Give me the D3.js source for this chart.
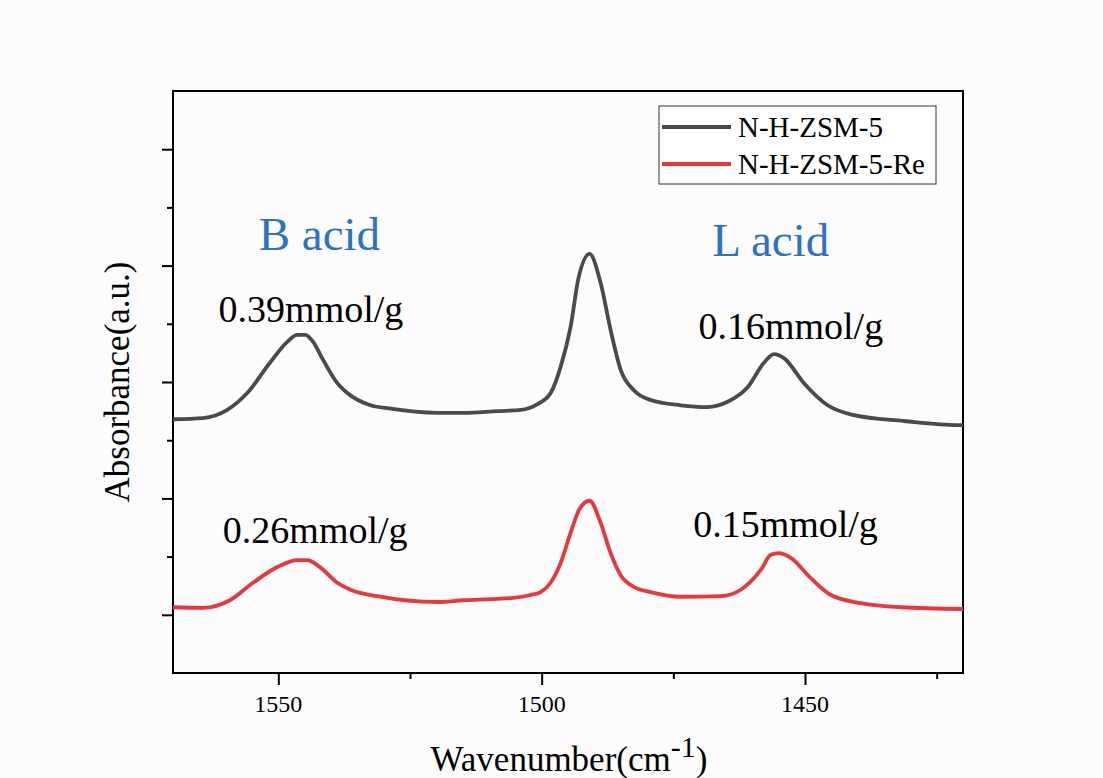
<!DOCTYPE html>
<html><head><meta charset="utf-8">
<script src="https://cdn.jsdelivr.net/npm/d3@7"></script>
<style>html,body{margin:0;padding:0;background:#fcfcfc;}svg{display:block;}</style>
</head><body>
<svg id="c" width="1103" height="778"></svg>
<script>
const wavenumbers1 = [1570.0,1564.3,1559.7,1555.9,1551.6,1548.3,1546.4,1544.9,1543.4,1541.5,1538.8,1536.9,1532.5,1529.3,1519.8,1514.9,1508.4,1504.0,1500.8,1498.3,1496.4,1494.5,1493.0,1490.9,1488.8,1486.9,1485.0,1482.5,1479.3,1473.6,1468.5,1464.7,1460.9,1457.8,1455.9,1454.0,1450.2,1445.7,1440.7,1431.2,1420.9,1420.0];
const absorbance1 = [0.436,0.438,0.452,0.481,0.533,0.569,0.581,0.581,0.569,0.538,0.498,0.481,0.460,0.455,0.447,0.447,0.450,0.452,0.462,0.481,0.526,0.595,0.679,0.720,0.670,0.589,0.521,0.486,0.469,0.460,0.457,0.466,0.491,0.533,0.548,0.541,0.498,0.460,0.443,0.433,0.426,0.426];
const wavenumbers2 = [1570.0,1564.3,1559.2,1554.8,1550.2,1546.4,1544.5,1542.1,1538.8,1536.3,1531.2,1519.8,1514.9,1509.7,1505.4,1502.1,1500.2,1498.3,1496.4,1494.5,1492.8,1490.9,1488.8,1486.9,1485.0,1482.5,1479.3,1473.6,1466.0,1462.2,1458.4,1456.5,1455.0,1452.7,1448.9,1445.1,1439.4,1431.8,1420.0];
const absorbance2 = [0.113,0.112,0.125,0.155,0.182,0.194,0.194,0.182,0.155,0.143,0.132,0.122,0.125,0.127,0.129,0.134,0.139,0.155,0.189,0.241,0.282,0.296,0.258,0.206,0.168,0.148,0.139,0.131,0.132,0.143,0.177,0.203,0.206,0.198,0.163,0.134,0.120,0.113,0.110];
const seriesNames = ["N-H-ZSM-5","N-H-ZSM-5-Re"];
const seriesColors = ["#4a4a4a","#e8383d"];
const xTickValues = [1550,1500,1450];
const xMinorTicks = [1525,1475,1425];
const yMajorTicks = [0.1,0.3,0.5,0.7,0.9];
const yMinorTicks = [0.2,0.4,0.6,0.8];
const annotations = [
  {w:1543.8, v:0.603, text:"0.39mmol/g"},
  {w:1452.7, v:0.574, text:"0.16mmol/g"},
  {w:1543.0, v:0.223, text:"0.26mmol/g"},
  {w:1453.7, v:0.234, text:"0.15mmol/g"}
];
const acidLabels = [{w:1542.2, v:0.727, text:"B acid"},{w:1456.5, v:0.716, text:"L acid"}];

const svg = d3.select("#c");
const m = {l:173, t:91, r:963, b:673};
const x = d3.scaleLinear().domain([1570,1420]).range([m.l, m.r]);
const y = d3.scaleLinear().domain([0,1]).range([m.b, m.t]);
const font = "'Liberation Serif','Times New Roman',serif";

svg.append("rect").attr("x",m.l).attr("y",m.t).attr("width",m.r-m.l).attr("height",m.b-m.t)
  .attr("fill","none").attr("stroke","#000").attr("stroke-width",2);

const gx = svg.append("g").attr("transform",`translate(0,${m.b})`);
gx.call(d3.axisBottom(x).tickValues(xTickValues).tickSize(12).tickFormat(""));
gx.select(".domain").remove();
gx.selectAll("line").attr("stroke-width",2);
const gxm = svg.append("g").attr("transform",`translate(0,${m.b})`);
gxm.call(d3.axisBottom(x).tickValues(xMinorTicks).tickSize(6).tickFormat(""));
gxm.select(".domain").remove();
gxm.selectAll("line").attr("stroke-width",2);
svg.append("g").selectAll("text").data(xTickValues).join("text")
  .attr("x",d=>x(d)).attr("y",m.b+39).attr("text-anchor","middle")
  .attr("font-family",font).attr("font-size",24).attr("fill","#000")
  .text(d=>String(d));

const gy = svg.append("g").attr("transform",`translate(${m.l},0)`);
gy.call(d3.axisLeft(y).tickValues(yMajorTicks).tickSize(11).tickFormat(""));
gy.select(".domain").remove();
gy.selectAll("line").attr("stroke-width",2);
const gym = svg.append("g").attr("transform",`translate(${m.l},0)`);
gym.call(d3.axisLeft(y).tickValues(yMinorTicks).tickSize(6).tickFormat(""));
gym.select(".domain").remove();
gym.selectAll("line").attr("stroke-width",2);

const line = d3.line().x(d=>x(d[0])).y(d=>y(d[1])).curve(d3.curveMonotoneX);
const data = [d3.zip(wavenumbers1,absorbance1), d3.zip(wavenumbers2,absorbance2)];
data.forEach((d,i)=>{
  svg.append("path").datum(d).attr("d",line).attr("fill","none")
    .attr("stroke",seriesColors[i]).attr("stroke-width",3.8).attr("stroke-linejoin","round");
});

annotations.forEach(a=>{
  svg.append("text").attr("x",x(a.w)).attr("y",y(a.v)).attr("text-anchor","middle")
    .attr("font-family",font).attr("font-size",38).attr("fill","#000").text(a.text);
});
acidLabels.forEach(a=>{
  svg.append("text").attr("x",x(a.w)).attr("y",y(a.v)).attr("text-anchor","middle")
    .attr("font-family",font).attr("font-size",47).attr("fill","#2c72c6").text(a.text);
});

const lg = svg.append("g");
lg.append("rect").attr("x",659).attr("y",106).attr("width",277).attr("height",78)
  .attr("fill","#fff").attr("stroke","#333").attr("stroke-width",1);
seriesNames.forEach((n,i)=>{
  const yy = 127 + i*37;
  lg.append("line").attr("x1",662).attr("x2",731).attr("y1",yy).attr("y2",yy)
    .attr("stroke",seriesColors[i]).attr("stroke-width",4);
  lg.append("text").attr("x",738).attr("y",yy+10).attr("font-family",font).attr("font-size",29)
    .attr("fill","#000").text(n);
});

svg.append("text").attr("transform","translate(129,382) rotate(-90)").attr("text-anchor","middle")
  .attr("font-family",font).attr("font-size",35).attr("fill","#000").text("Absorbance(a.u.)");
const xt = svg.append("text").attr("x",569).attr("y",771).attr("text-anchor","middle")
  .attr("font-family",font).attr("font-size",35).attr("fill","#000");
xt.append("tspan").text("Wavenumber(cm");
xt.append("tspan").attr("dy",-14).attr("font-size",30).text("-1");
xt.append("tspan").attr("dy",14).text(")");
</script>
</body></html>
